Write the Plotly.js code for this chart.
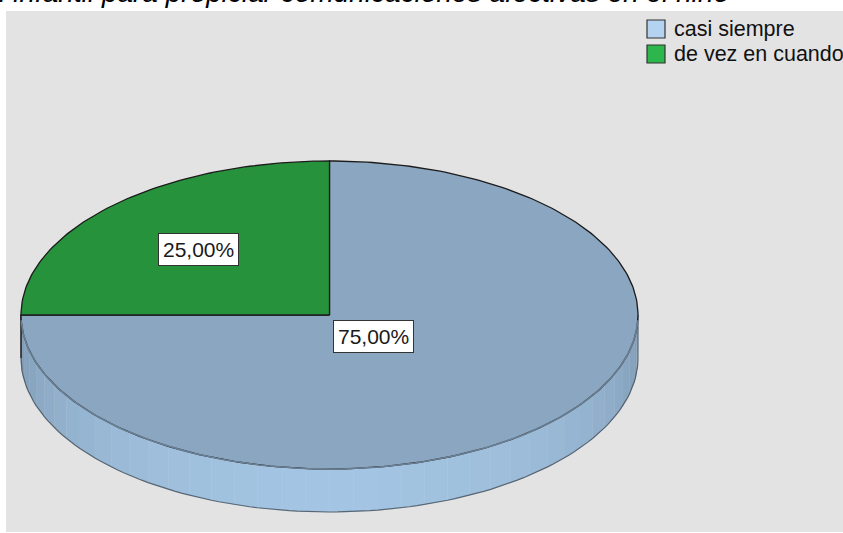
<!DOCTYPE html>
<html>
<head>
<meta charset="utf-8">
<script src="https://cdn.plot.ly/plotly-3.0.1.min.js"></script>
<style>html,body{margin:0;padding:0;background:#fff;}#chart{width:843px;height:533px;}</style>
</head>
<body>
<div id="chart"></div>
<script>
// ---- data ----
const categories = ['casi siempre', 'de vez en cuando'];
const percents = [75, 25];
const valueLabels = ['75,00%', '25,00%'];
const titleText = 'Uso de estrategias del docente de educación infantil para propiciar comunicaciones afectivas en el niño';

// ---- style ----
const topColors = ['#8aa6c0', '#26923b'];
const sideMid = ['#a3c4e2', '#2fae4a'];
const sideEdge = ['#7b96af', '#1f7a31'];
const legendColors = ['#b4d3f0', '#2cb64b'];
const labelRadius = [0.2, 0.6];

const geo = {cx: 329.5, cy: 315, rx: 308.5, ry: 154, depth: 43};

function pt(theta, dy) {
  const r = theta * Math.PI / 180;
  return [geo.cx + geo.rx * Math.cos(r), geo.cy - geo.ry * Math.sin(r) + (dy || 0)];
}
function hex2rgb(h) { return [1,3,5].map(i => parseInt(h.substr(i,2),16)); }
function mix(a, b, t) {
  const A = hex2rgb(a), B = hex2rgb(b);
  return 'rgb(' + A.map((v,i) => Math.round(v + (B[i]-v)*t)).join(',') + ')';
}

// slice angle ranges: start at 12 o'clock, clockwise
const slices = [];
let a0 = 90;
percents.forEach((p, i) => {
  const a1 = a0 - p / 100 * 360;
  slices.push({i, start: a0, end: a1});
  a0 = a1;
});
function sliceAt(theta) {
  for (const s of slices) {
    for (let k = -2; k <= 2; k++) {
      const t = theta + 360 * k;
      if (t <= s.start && t >= s.end) return s.i;
    }
  }
  return 0;
}

const traces = [];
// side wall (front half), banded strips
const N = 40;
for (let k = 0; k < N; k++) {
  const t0 = 180 + 180 * k / N, t1 = 180 + 180 * (k + 1) / N;
  const mid = (t0 + t1) / 2;
  const si = sliceAt(mid);
  const f = Math.pow(-Math.sin(mid * Math.PI / 180), 0.8);
  const col = mix(sideEdge[si], sideMid[si], f);
  const xs = [], ys = [];
  const steps = 6;
  for (let j = 0; j <= steps; j++) { const p = pt(t0 + (t1 - t0) * j / steps, 0); xs.push(p[0]); ys.push(p[1]); }
  for (let j = steps; j >= 0; j--) { const p = pt(t0 + (t1 - t0) * j / steps, geo.depth); xs.push(p[0]); ys.push(p[1]); }
  traces.push({type: 'scatter', mode: 'lines', x: xs, y: ys, fill: 'toself', fillcolor: col,
    line: {color: col, width: 0.6}, hoverinfo: 'skip', showlegend: false});
}
// side bottom edge + vertical edges
(function () {
  const xs = [], ys = [];
  for (let j = 0; j <= 120; j++) { const p = pt(180 + 180 * j / 120, geo.depth); xs.push(p[0]); ys.push(p[1]); }
  traces.push({type: 'scatter', mode: 'lines', x: xs, y: ys, line: {color: 'rgba(60,70,80,0.75)', width: 1.2},
    hoverinfo: 'skip', showlegend: false});
  const l0 = pt(180, 0), l1 = pt(180, geo.depth), r0 = pt(360, 0), r1 = pt(360, geo.depth);
  traces.push({type: 'scatter', mode: 'lines', x: [l0[0], l1[0]], y: [l0[1], l1[1]], line: {color: '#1a1a1a', width: 1.5}, hoverinfo: 'skip', showlegend: false});
  traces.push({type: 'scatter', mode: 'lines', x: [r0[0], r1[0]], y: [r0[1], r1[1]], line: {color: '#4a5a6a', width: 1}, hoverinfo: 'skip', showlegend: false});
})();
// top face slices
slices.forEach(s => {
  const xs = [geo.cx], ys = [geo.cy];
  const steps = Math.max(8, Math.round(Math.abs(s.start - s.end)));
  for (let j = 0; j <= steps; j++) { const p = pt(s.start + (s.end - s.start) * j / steps, 0); xs.push(p[0]); ys.push(p[1]); }
  xs.push(geo.cx); ys.push(geo.cy);
  traces.push({type: 'scatter', mode: 'lines', x: xs, y: ys, fill: 'toself', fillcolor: topColors[s.i],
    line: {color: '#1c1c1c', width: 1.3}, name: categories[s.i], hoverinfo: 'skip', showlegend: false});
});
// softer front edge of the top face
(function () {
  const xs = [], ys = [];
  for (let j = 0; j <= 120; j++) { const p = pt(182 + 176 * j / 120, 0); xs.push(p[0]); ys.push(p[1]); }
  traces.push({type: 'scatter', mode: 'lines', x: xs, y: ys, line: {color: '#6b7f93', width: 1.6}, hoverinfo: 'skip', showlegend: false});
})();

// value labels
const annotations = slices.map(s => {
  const midA = (s.start + s.end) / 2;
  const r = midA * Math.PI / 180;
  const x = geo.cx + labelRadius[s.i] * geo.rx * Math.cos(r);
  const y = geo.cy - labelRadius[s.i] * geo.ry * Math.sin(r);
  return {x, y, xref: 'x', yref: 'y', text: valueLabels[s.i], showarrow: false,
    font: {family: 'Liberation Sans, Arial, sans-serif', size: 21, color: '#1a1a1a'},
    bgcolor: '#ffffff', bordercolor: '#333333', borderwidth: 1, borderpad: 4};
});
// title (partly cut off at the top, as in the reference)
annotations.push({x: 731, y: 10, xref: 'x', yref: 'y', xanchor: 'right', yanchor: 'bottom',
  text: titleText, showarrow: false,
  font: {family: 'Liberation Sans, Arial, sans-serif', size: 28, color: '#000', style: 'italic'}});

// legend (manual)
const shapes = [{type: 'rect', xref: 'x', yref: 'y', x0: 6, x1: 843, y0: 11, y1: 532,
  fillcolor: '#e3e3e3', line: {width: 0}, layer: 'below'}];
const legTop = [20, 45];
categories.forEach((c, i) => {
  shapes.push({type: 'rect', xref: 'x', yref: 'y', x0: 647, x1: 665, y0: legTop[i], y1: legTop[i] + 18,
    fillcolor: legendColors[i], line: {color: '#333', width: 1.2}});
  annotations.push({x: 672, y: legTop[i] + 9, xref: 'x', yref: 'y', xanchor: 'left', yanchor: 'middle',
    text: c, showarrow: false, font: {family: 'Liberation Sans, Arial, sans-serif', size: 21.5, color: '#111'}});
});

const layout = {
  width: 843, height: 533,
  margin: {l: 0, r: 0, t: 0, b: 0},
  paper_bgcolor: '#ffffff', plot_bgcolor: 'rgba(0,0,0,0)',
  xaxis: {range: [0, 843], visible: false, fixedrange: true},
  yaxis: {range: [533, 0], visible: false, fixedrange: true},
  showlegend: false,
  shapes, annotations
};
Plotly.newPlot('chart', traces, layout, {displayModeBar: false, staticPlot: true});
</script>
</body>
</html>
